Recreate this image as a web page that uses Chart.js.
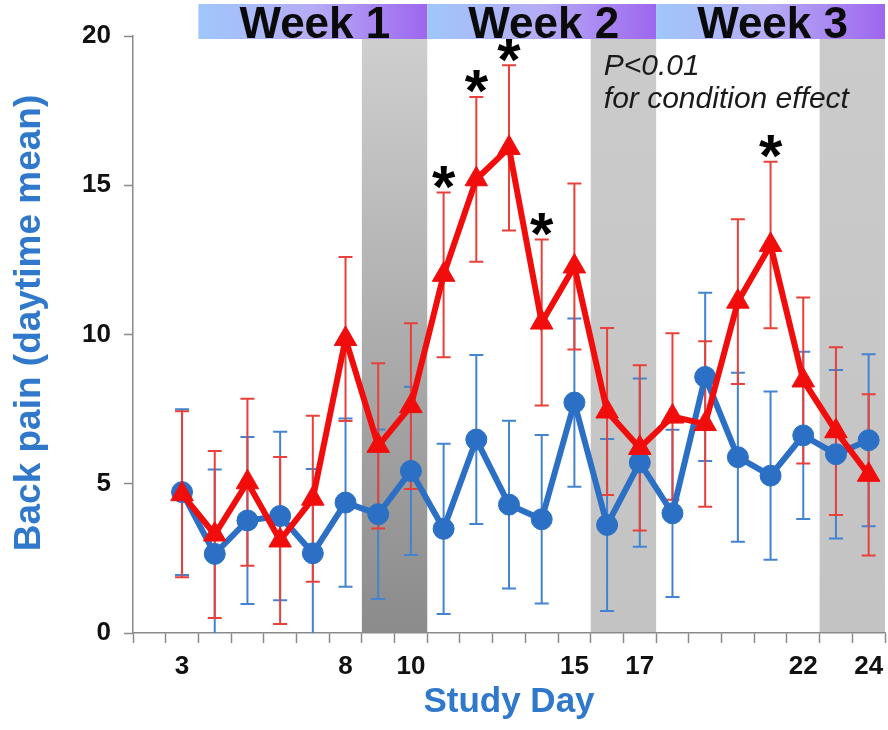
<!DOCTYPE html>
<html>
<head>
<meta charset="utf-8">
<script src="https://cdn.jsdelivr.net/npm/chart.js@4/dist/chart.umd.min.js"></script>
<style>
  html, body { margin: 0; padding: 0; background: #ffffff; }
  canvas { display: block; }
</style>
</head>
<body>
<canvas id="painChart" width="888" height="730"></canvas>
<script>
// Study days on the x axis
const studyDays = [3, 4, 5, 6, 7, 8, 9, 10, 11, 12, 13, 14, 15, 16, 17, 18, 19, 20, 21, 22, 23, 24];
const labeledDays = [3, 8, 10, 15, 17, 22, 24];
const yTicks = [0, 5, 10, 15, 20];

// Daytime mean back pain, condition group (red) and control group (blue), with SEM
const conditionMean = [4.65, 3.3, 5.05, 3.1, 4.5, 9.85, 6.27, 7.6, 12.0, 15.2, 16.25, 10.4, 12.28, 7.42, 6.2, 7.25, 7.0, 11.1, 13.0, 8.46, 6.76, 5.3];
const conditionErr  = [2.78, 2.8, 2.8, 2.8, 2.78, 2.75, 2.77, 2.78, 2.76, 2.76, 2.77, 2.78, 2.78, 2.8, 2.77, 2.79, 2.77, 2.76, 2.79, 2.78, 2.81, 2.7];
const controlMean   = [4.72, 2.65, 3.77, 3.92, 2.67, 4.37, 3.98, 5.43, 3.49, 6.48, 4.3, 3.81, 7.72, 3.62, 5.71, 4.01, 8.58, 5.89, 5.27, 6.62, 5.99, 6.46];
const controlErr    = [2.78, 2.83, 2.8, 2.82, 2.82, 2.82, 2.84, 2.82, 2.85, 2.83, 2.81, 2.82, 2.82, 2.88, 2.82, 2.8, 2.82, 2.83, 2.82, 2.8, 2.82, 2.88];

// Days with a significant difference (marked with *)
const significantDays = [11, 12, 13, 14, 21];

// Weekend periods (shaded) and study weeks (header bars)
const weekendStarts = [8.5, 15.5, 22.5];
const weekendEnds   = [10.5, 17.5, 24.5];
const weekLabels = ['Week 1', 'Week 2', 'Week 3'];
const weekStarts = [3.5, 10.5, 17.5];
const weekEnds   = [10.5, 17.5, 24.5];

const statLines = ['P<0.01', 'for condition effect'];
const yTitle = 'Back pain (daytime mean)';

const FONT = "'Liberation Sans', Arial, Helvetica, sans-serif";
const RED = '#f20d0d';
const BLUE = '#2b70c4';
const AXIS = '#8a8a8a';
const TITLE_BLUE = '#2f78cc';

const toPoints = vals => studyDays.map((d, i) => ({ x: d, y: vals[i] }));

const decorations = {
  id: 'studyDecorations',
  beforeDraw(chart) {
    const { ctx, chartArea: a, scales: { x } } = chart;
    const shades = [['#cfcfcf', '#8b8b8b'], ['#cbcbcb', '#c3c3c3'], ['#cbcbcb', '#c3c3c3']];
    ctx.save();
    weekendStarts.forEach((s, i) => {
      const x0 = x.getPixelForValue(s);
      const x1 = x.getPixelForValue(weekendEnds[i]);
      const g = ctx.createLinearGradient(0, a.top, 0, a.bottom);
      g.addColorStop(0, shades[i][0]);
      g.addColorStop(1, shades[i][1]);
      ctx.fillStyle = g;
      ctx.fillRect(x0, a.top, x1 - x0, a.bottom - a.top);
    });
    ctx.restore();
  },
  beforeDatasetsDraw(chart) {
    const { ctx, chartArea: a, scales: { x, y } } = chart;
    ctx.save();
    ctx.beginPath();
    ctx.rect(a.left, a.top - 40, a.right - a.left, a.bottom - a.top + 40);
    ctx.clip();
    chart.data.datasets.forEach(ds => {
      ctx.strokeStyle = ds.errorColor;
      ctx.lineWidth = 2;
      ds.data.forEach((p, i) => {
        const e = ds.errors[i];
        const px = x.getPixelForValue(p.x);
        const yt = y.getPixelForValue(p.y + e);
        const yb = y.getPixelForValue(p.y - e);
        ctx.beginPath();
        ctx.moveTo(px, yt); ctx.lineTo(px, yb);
        ctx.moveTo(px - 7, yt); ctx.lineTo(px + 7, yt);
        ctx.moveTo(px - 7, yb); ctx.lineTo(px + 7, yb);
        ctx.stroke();
      });
    });
    ctx.restore();
  },
  afterDraw(chart) {
    const { ctx, chartArea: a, scales: { x, y } } = chart;
    ctx.save();
    // week header bars
    const barTop = a.top - 32, barBottom = a.top + 3;
    weekLabels.forEach((label, i) => {
      const x0 = x.getPixelForValue(weekStarts[i]);
      const x1 = x.getPixelForValue(weekEnds[i]);
      const g = ctx.createLinearGradient(x0, 0, x1, 0);
      g.addColorStop(0, '#9fc7fb');
      g.addColorStop(0.5, '#b6acf5');
      g.addColorStop(1, '#9d66ef');
      ctx.fillStyle = g;
      ctx.fillRect(x0, barTop, x1 - x0, barBottom - barTop);
      ctx.fillStyle = '#0a0a0a';
      ctx.font = `bold 44px ${FONT}`;
      ctx.textAlign = 'center';
      ctx.textBaseline = 'alphabetic';
      ctx.fillText(label, (x0 + x1) / 2 + 2, barBottom - 1);
    });

    // significance asterisks above the condition error bars
    const cond = chart.data.datasets[1];
    ctx.font = `bold 60px ${FONT}`;
    ctx.textAlign = 'center';
    ctx.textBaseline = 'alphabetic';
    const m = ctx.measureText('*');
    const glyphMid = (m.actualBoundingBoxAscent - m.actualBoundingBoxDescent) / 2;
    ctx.fillStyle = '#000000';
    significantDays.forEach(d => {
      const i = studyDays.indexOf(d);
      const px = x.getPixelForValue(d);
      const topPx = y.getPixelForValue(cond.data[i].y + cond.errors[i]);
      ctx.fillText('*', px, topPx - 15 + glyphMid);
    });

    // statistics note
    ctx.font = `italic 30px ${FONT}`;
    ctx.textAlign = 'left';
    ctx.fillStyle = '#1a1a1a';
    const tx = x.getPixelForValue(15.9);
    ctx.fillText(statLines[0], tx, a.top + 39);
    ctx.fillText(statLines[1], tx, a.top + 72);

    // y axis title
    ctx.translate(30, 323);
    ctx.rotate(-Math.PI / 2);
    ctx.font = `bold 37px ${FONT}`;
    ctx.textAlign = 'center';
    ctx.textBaseline = 'middle';
    ctx.fillStyle = TITLE_BLUE;
    ctx.fillText(yTitle, 0, 0);
    ctx.restore();
  }
};

new Chart(document.getElementById('painChart'), {
  type: 'line',
  data: {
    datasets: [
      {
        label: 'Control',
        data: toPoints(controlMean),
        errors: controlErr,
        errorColor: '#4284d0',
        borderColor: BLUE,
        backgroundColor: BLUE,
        borderWidth: 6,
        pointStyle: 'circle',
        pointRadius: 10.5,
        pointBorderWidth: 1,
        tension: 0,
        order: 2
      },
      {
        label: 'Condition',
        data: toPoints(conditionMean),
        errors: conditionErr,
        errorColor: '#e8403a',
        borderColor: RED,
        backgroundColor: RED,
        borderWidth: 6,
        pointStyle: 'triangle',
        pointRadius: 13,
        pointBorderWidth: 1,
        tension: 0,
        order: 1
      }
    ]
  },
  options: {
    responsive: false,
    animation: false,
    devicePixelRatio: 1,
    layout: { autoPadding: false, padding: { top: 36, right: 3, left: 0, bottom: 0 } },
    plugins: { legend: { display: false }, tooltip: { enabled: false } },
    scales: {
      x: {
        type: 'linear',
        min: 1.5,
        max: 24.5,
        afterFit(s) { s.height = 97; s.paddingLeft = 0; s.paddingRight = 0; },
        border: { color: AXIS, width: 1.5 },
        grid: {
          drawOnChartArea: false,
          drawTicks: true,
          tickLength: 10,
          tickWidth: 1.5,
          tickColor: c => (Math.abs(c.tick.value - Math.round(c.tick.value)) < 0.01 ? 'rgba(0,0,0,0)' : AXIS)
        },
        ticks: {
          stepSize: 0.5,
          autoSkip: false,
          maxTicksLimit: 200,
          maxRotation: 0,
          padding: 8,
          color: '#111111',
          font: { family: FONT, size: 26, weight: 'bold' },
          callback: v => (labeledDays.includes(v) ? String(v) : '')
        },
        title: {
          display: true,
          text: 'Study Day',
          color: TITLE_BLUE,
          font: { family: FONT, size: 35, weight: 'bold' },
          padding: { top: 0, bottom: 7 }
        }
      },
      y: {
        min: yTicks[0],
        max: yTicks[yTicks.length - 1],
        afterFit(s) { s.width = 133; },
        afterBuildTicks(s) { s.ticks = yTicks.map(v => ({ value: v })); },
        border: { color: AXIS, width: 1.5 },
        grid: { drawOnChartArea: false, drawTicks: true, tickLength: 9, tickWidth: 1.5, tickColor: AXIS },
        ticks: {
          padding: 13,
          color: '#111111',
          font: { family: FONT, size: 26, weight: 'bold' }
        },
        title: { display: false }
      }
    }
  },
  plugins: [decorations]
});
</script>
</body>
</html>
